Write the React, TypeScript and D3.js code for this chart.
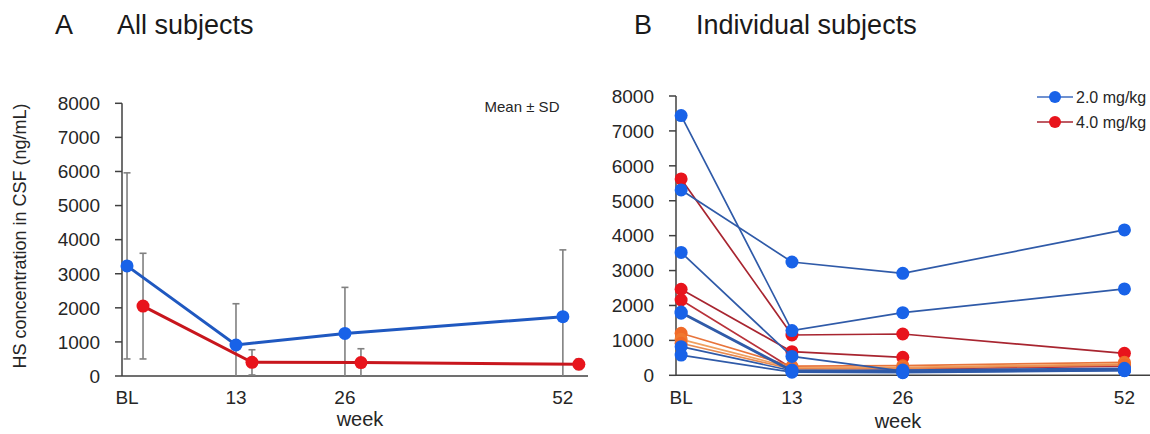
import { useEffect } from 'react';
import * as d3 from 'd3';

// x categories
const weekLabels = ['BL', '13', '26', '52'];
const weeks = [0, 13, 26, 52];
const yTicks = [0, 1000, 2000, 3000, 4000, 5000, 6000, 7000, 8000];

// panel A: group means and SD
const meanLow = [3230, 910, 1250, 1740];
const sdLow = [2730, 1210, 1350, 1960];
const meanHigh = [2050, 400, 395, 345];
const sdHigh = [1550, 370, 405, 150];

// panel B: individual subjects (null = no sample)
const lowDoseSubjects: (number | null)[][] = [
  [7440, 1280, 1795, 2473],
  [5310, 3245, 2920, 4163],
  [3520, 540, 120, 150],
  [1810, 150, 110, 170],
  [1780, 110, 90, 140],
  [820, 130, 150, 200],
  [580, 90, 75, 132],
];
const highDoseSubjects: (number | null)[][] = [
  [5625, 1155, 1183, 630],
  [2464, 676, 516, null],
  [2157, 200, 180, 260],
  [1204, 260, 275, 372],
  [1031, 210, 230, 330],
  [917, 180, 200, 300],
];
const legendLabels = ['2.0 mg/kg', '4.0 mg/kg'];

const FONT = '"Liberation Sans", Arial, sans-serif';
const BLUE_DOT = '#1862e8';
const BLUE_LINE = '#2f5aa8';
const RED_DOT = '#e8141c';
const RED_LINE = '#a82530';
const highLine = ['#a82530', '#a82530', '#b8323a', '#e8743b', '#f0a060', '#e88a50'];
const highDot = ['#e8141c', '#e8141c', '#e8141c', '#f06a28', '#f07830', '#f06a28'];

const H = 434;

export default function App() {
  useEffect(() => {
    document.body.style.margin = '0';
  }, []);

  const yA = d3.scaleLinear().domain([0, 8000]).range([376, 103.3]);
  const xA = d3.scaleLinear().domain([-0.6, 55]).range([122, 588]);
  const yB = d3.scaleLinear().domain([0, 8000]).range([375.3, 96]);
  const xB = d3.scaleLinear().domain([-0.6, 55]).range([676, 1150]);
  const offset = 16;

  const lineA = (vals: number[], dx: number) =>
    d3.line<number>().x((_, i) => xA(weeks[i]) + dx).y((d) => yA(d))(vals) || '';

  const lineB = d3
    .line<number | null>()
    .defined((d) => d != null)
    .x((_, i) => xB(weeks[i]))
    .y((d) => yB(d as number));

  const axis = (x: d3.ScaleLinear<number, number>, y: d3.ScaleLinear<number, number>, key: string) => (
    <g key={key}>
      <line x1={x.range()[0]} x2={x.range()[0]} y1={y(8000)} y2={y(0)} stroke="#404040" strokeWidth={1.5} />
      <line x1={x.range()[0]} x2={x.range()[1]} y1={y(0)} y2={y(0)} stroke="#404040" strokeWidth={1.5} />
      {yTicks.map((t) => (
        <g key={t}>
          <line x1={x.range()[0] - 7} x2={x.range()[0]} y1={y(t)} y2={y(t)} stroke="#404040" strokeWidth={1.5} />
          <text x={x.range()[0] - 22} y={y(t)} dy="0.36em" textAnchor="end" fontSize={19} fill="#262626">
            {t}
          </text>
        </g>
      ))}
      {weekLabels.map((l, i) => (
        <text key={l} x={x(weeks[i])} y={404} textAnchor="middle" fontSize={19} fill="#262626">
          {l}
        </text>
      ))}
    </g>
  );

  const errBar = (i: number, m: number, s: number, dx: number, k: string) => {
    const cx = xA(weeks[i]) + dx;
    const top = yA(m + s);
    const lo = Math.max(0, m - s);
    const bot = yA(lo);
    return (
      <g key={k} stroke="#808080" strokeWidth={1.6}>
        <line x1={cx} x2={cx} y1={top} y2={bot} />
        <line x1={cx - 3.5} x2={cx + 3.5} y1={top} y2={top} />
        {lo > 0 && <line x1={cx - 3.5} x2={cx + 3.5} y1={bot} y2={bot} />}
      </g>
    );
  };

  return (
    <svg width={1150} height={H} style={{ position: 'absolute', left: 0, top: 0, fontFamily: FONT }}>
      <rect width={1150} height={H} fill="#fff" />

      {/* titles */}
      <text x={55} y={34} fontSize={27} fill="#1a1a1a">A</text>
      <text x={117} y={34} fontSize={27} fill="#1a1a1a">All subjects</text>
      <text x={634} y={34} fontSize={27} fill="#1a1a1a">B</text>
      <text x={696} y={34} fontSize={27} fill="#1a1a1a">Individual subjects</text>

      {/* panel A */}
      {axis(xA, yA, 'axA')}
      <text transform="translate(26,236) rotate(-90)" textAnchor="middle" fontSize={18} fill="#262626">
        HS concentration in CSF (ng/mL)
      </text>
      <text x={360} y={426} textAnchor="middle" fontSize={20} fill="#262626">week</text>
      <text x={522} y={112} textAnchor="middle" fontSize={15} fill="#262626">Mean ± SD</text>

      {meanLow.map((m, i) => errBar(i, m, sdLow[i], 0, 'el' + i))}
      {meanHigh.map((m, i) => errBar(i, m, sdHigh[i], offset, 'eh' + i))}
      <path d={lineA(meanHigh, offset)} fill="none" stroke="#c8161d" strokeWidth={3} />
      <path d={lineA(meanLow, 0)} fill="none" stroke="#1f58c0" strokeWidth={3} />
      {meanHigh.map((m, i) => (
        <circle key={'mh' + i} cx={xA(weeks[i]) + offset} cy={yA(m)} r={6.5} fill={RED_DOT} />
      ))}
      {meanLow.map((m, i) => (
        <circle key={'ml' + i} cx={xA(weeks[i])} cy={yA(m)} r={6.5} fill={BLUE_DOT} />
      ))}

      {/* panel B */}
      {axis(xB, yB, 'axB')}
      <text x={898} y={428} textAnchor="middle" fontSize={20} fill="#262626">week</text>

      {highDoseSubjects.map((s, si) => (
        <g key={'h' + si}>
          <path d={lineB(s) || ''} fill="none" stroke={highLine[si]} strokeWidth={1.7} />
          {s.map((v, i) =>
            v == null ? null : <circle key={i} cx={xB(weeks[i])} cy={yB(v)} r={6.5} fill={highDot[si]} />
          )}
        </g>
      ))}
      {lowDoseSubjects.map((s, si) => (
        <g key={'l' + si}>
          <path d={lineB(s) || ''} fill="none" stroke={BLUE_LINE} strokeWidth={1.7} />
          {s.map((v, i) =>
            v == null ? null : <circle key={i} cx={xB(weeks[i])} cy={yB(v)} r={6.5} fill={BLUE_DOT} />
          )}
        </g>
      ))}

      {/* legend */}
      {legendLabels.map((l, i) => {
        const ly = 97 + i * 25;
        return (
          <g key={l}>
            <line x1={1037} x2={1073} y1={ly} y2={ly} stroke={i === 0 ? '#3f6cc0' : RED_LINE} strokeWidth={1.7} />
            <circle cx={1055} cy={ly} r={6} fill={i === 0 ? BLUE_DOT : RED_DOT} />
            <text x={1076} y={ly} dy="0.36em" fontSize={16} fill="#262626">{l}</text>
          </g>
        );
      })}
    </svg>
  );
}
